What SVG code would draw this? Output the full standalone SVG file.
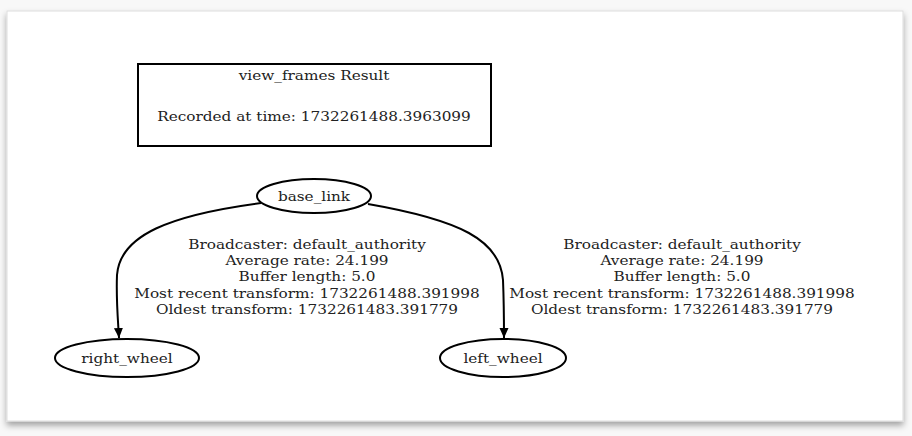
<svg xmlns="http://www.w3.org/2000/svg" width="912" height="436" viewBox="0 0 912 436">
<defs>
<filter id="sh" x="-5%" y="-5%" width="110%" height="115%">
<feDropShadow dx="0" dy="4" stdDeviation="3" flood-color="#000" flood-opacity="0.35"/>
</filter>
<marker id="ah" viewBox="0 0 10 12" refX="10" refY="5" markerWidth="10" markerHeight="12" markerUnits="userSpaceOnUse" orient="auto">
<path d="M0,0.5 L10,5 L0,9.5 z" fill="#000"/>
</marker>
<style>
text{font-family:"DejaVu Serif","Liberation Serif",serif;font-size:13.4px;fill:#222;text-anchor:middle}
.n{fill:none;stroke:#000;stroke-width:2}
.e{fill:none;stroke:#000;stroke-width:2}
</style>
</defs>
<rect width="912" height="436" fill="#f8f8f8"/>
<rect x="7" y="11" width="896" height="410" fill="#fff" stroke="#ddd" stroke-width="1" filter="url(#sh)"/>
<g id="title">
<rect class="n" x="138" y="64" width="353" height="82"/>
<g transform="translate(314,0) scale(1.14,1)">
<text x="0" y="80">view_frames Result</text>
<text x="0" y="121">Recorded at time: 1732261488.3963099</text>
</g>
</g>
<g id="base_link">
<ellipse class="n" cx="314" cy="196" rx="57" ry="17"/>
<text transform="translate(314,0) scale(1.14,1)" x="0" y="201">base_link</text>
</g>
<g id="right_wheel">
<ellipse class="n" cx="127" cy="358" rx="72" ry="19"/>
<text transform="translate(127,0) scale(1.14,1)" x="0" y="363">right_wheel</text>
</g>
<g id="left_wheel">
<ellipse class="n" cx="503" cy="358" rx="63" ry="19"/>
<text transform="translate(503,0) scale(1.14,1)" x="0" y="363">left_wheel</text>
</g>
<g id="edges">
<path class="e" d="M261,203 C170,215 120,235 117,275 C116,300 118,320 119,338" marker-end="url(#ah)"/>
<path class="e" d="M368,204 C460,220 500,240 503,280 C504,305 504,320 504,338" marker-end="url(#ah)"/>
<g id="label1" transform="translate(307,0) scale(1.14,1)">
<text x="0" y="249">Broadcaster: default_authority</text>
<text x="0" y="265">Average rate: 24.199</text>
<text x="0" y="281">Buffer length: 5.0</text>
<text x="0" y="298">Most recent transform: 1732261488.391998</text>
<text x="0" y="314">Oldest transform: 1732261483.391779</text>
</g>
<g id="label2" transform="translate(682,0) scale(1.14,1)">
<text x="0" y="249">Broadcaster: default_authority</text>
<text x="0" y="265">Average rate: 24.199</text>
<text x="0" y="281">Buffer length: 5.0</text>
<text x="0" y="298">Most recent transform: 1732261488.391998</text>
<text x="0" y="314">Oldest transform: 1732261483.391779</text>
</g>
</g>
</svg>
